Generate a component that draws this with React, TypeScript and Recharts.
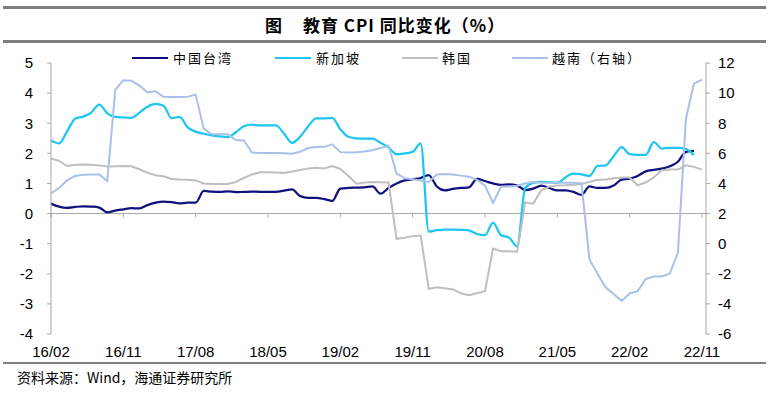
import React from 'react';
import { LineChart, Line, XAxis, YAxis, ReferenceLine } from 'recharts';

const months = [
  '16/02','16/03','16/04','16/05','16/06','16/07','16/08','16/09','16/10','16/11','16/12',
  '17/01','17/02','17/03','17/04','17/05','17/06','17/07','17/08','17/09','17/10','17/11','17/12',
  '18/01','18/02','18/03','18/04','18/05','18/06','18/07','18/08','18/09','18/10','18/11','18/12',
  '19/01','19/02','19/03','19/04','19/05','19/06','19/07','19/08','19/09','19/10','19/11','19/12',
  '20/01','20/02','20/03','20/04','20/05','20/06','20/07','20/08','20/09','20/10','20/11','20/12',
  '21/01','21/02','21/03','21/04','21/05','21/06','21/07','21/08','21/09','21/10','21/11','21/12',
  '22/01','22/02','22/03','22/04','22/05','22/06','22/07','22/08','22/09','22/10','22/11',
];

const tickLabels = ['16/02','16/11','17/08','18/05','19/02','19/11','20/08','21/05','22/02','22/11'];
const leftTicks = [-4, -3, -2, -1, 0, 1, 2, 3, 4, 5];
const rightTicks = [-6, -4, -2, 0, 2, 4, 6, 8, 10, 12];

const taiwan = [
  0.33,0.23,0.19,0.22,0.24,0.23,0.2,0.04,0.1,0.14,
  0.18,0.17,0.28,0.36,0.4,0.38,0.34,0.36,0.36,0.75,
  0.73,0.72,0.74,0.71,0.72,0.73,0.72,0.72,0.72,0.76,
  0.8,0.58,0.52,0.52,0.48,0.42,0.83,0.85,0.86,0.87,
  0.9,0.66,0.85,1.0,1.1,1.14,1.18,1.28,0.9,0.77,
  0.82,0.85,0.87,1.15,1.08,1.0,0.95,0.97,0.93,0.78,
  0.83,0.93,0.85,0.77,0.77,0.72,0.62,0.9,0.85,0.85,
  0.93,1.13,1.16,1.25,1.4,1.45,1.49,1.57,1.72,2.05,
  2.08,null,
];

const singapore = [
  2.43,2.33,2.73,3.15,3.22,3.35,3.62,3.33,3.21,3.19,
  3.18,3.35,3.55,3.64,3.58,3.17,3.21,2.86,2.72,2.65,
  2.6,2.56,2.54,2.7,2.9,2.95,2.93,2.93,2.93,2.65,
  2.35,2.55,2.9,3.16,3.16,3.18,2.8,2.55,2.5,2.49,
  2.49,2.35,2.2,1.97,2.0,2.05,2.33,-0.6,-0.55,-0.53,
  -0.53,-0.54,-0.56,-0.68,-0.72,-0.3,-0.72,-0.8,-1.09,0.85,
  1.02,1.05,1.04,1.02,1.2,1.33,1.3,1.25,1.58,1.6,
  1.9,2.21,1.97,1.95,1.95,2.37,2.16,2.18,2.18,2.14,
  1.94,null,
];

const korea = [
  1.83,1.75,1.58,1.62,1.63,1.62,1.6,1.56,1.57,1.58,
  1.57,1.47,1.36,1.27,1.24,1.15,1.13,1.12,1.1,1.0,
  0.98,0.98,0.98,1.05,1.18,1.3,1.37,1.37,1.36,1.35,
  1.4,1.45,1.5,1.52,1.5,1.58,1.48,1.25,0.99,1.03,
  1.05,1.04,1.03,-0.84,-0.8,-0.75,-0.73,-2.5,-2.45,-2.48,
  -2.52,-2.65,-2.71,-2.65,-2.58,-1.16,-1.25,-1.25,-1.27,0.37,
  0.33,0.77,0.9,0.93,0.94,0.96,0.98,1.05,1.12,1.13,
  1.17,1.2,1.2,0.94,1.03,1.2,1.44,1.46,1.46,1.6,
  1.55,1.46,
];

const vietnam = [
  3.33,3.7,4.2,4.5,4.57,4.6,4.6,4.16,10.23,10.85,
  10.82,10.5,10.05,10.12,9.76,9.74,9.74,9.76,9.9,7.64,
  7.26,7.26,7.26,6.88,6.85,6.05,6.03,6.03,6.02,6.0,
  5.98,6.1,6.35,6.42,6.43,6.6,6.08,6.05,6.07,6.12,
  6.2,6.35,6.5,4.66,4.35,4.28,4.2,4.1,4.6,4.62,
  4.6,4.52,4.45,4.24,3.85,2.7,3.8,3.8,3.85,4.0,
  4.1,4.05,4.04,4.04,4.05,4.05,4.0,-1.05,-2.0,-2.9,
  -3.35,-3.8,-3.31,-3.15,-2.35,-2.18,-2.18,-1.98,-0.6,8.3,
  10.63,10.9,
];

const seriesNames = ['中国台湾', '新加坡', '韩国', '越南（右轴）'];
const titleLead = '图';
const titleMain = '教育 CPI 同比变化（%）';
const source = '资料来源：Wind，海通证券研究所';

const data = months.map((m, i) => ({
  month: m,
  taiwan: taiwan[i],
  singapore: singapore[i],
  korea: korea[i],
  vietnam: vietnam[i],
}));

const COLORS = {
  taiwan: '#10107f',
  singapore: '#1cc6f0',
  korea: '#bfbfbf',
  vietnam: '#a9c1e8',
};

const AXIS = '#a6a6a6';
const LATIN = '"Liberation Sans", Arial, sans-serif';
const CJK = '"Noto Sans CJK SC", "Liberation Sans", sans-serif';

const legendItems = [
  { label: seriesNames[0], color: COLORS.taiwan, lineX: 132, textX: 173 },
  { label: seriesNames[1], color: COLORS.singapore, lineX: 275, textX: 316 },
  { label: seriesNames[2], color: COLORS.korea, lineX: 402, textX: 442 },
  { label: seriesNames[3], color: COLORS.vietnam, lineX: 512, textX: 552 },
];

export default function App() {
  return (
    <div style={{ position: 'absolute', left: 0, top: 0, width: 769, height: 394, background: '#fff', overflow: 'hidden' }}>
      <div style={{ position: 'absolute', left: 3, top: 6, width: 763, height: 3, background: '#7f7f7f' }} />
      <div style={{ position: 'absolute', left: 3, top: 40, width: 763, height: 3, background: '#7f7f7f' }} />
      <div style={{ position: 'absolute', left: 3, top: 362, width: 763, height: 2, background: '#7f7f7f' }} />
      <div style={{ position: 'absolute', left: 265, top: 13, fontFamily: CJK, fontWeight: 700, fontSize: 17, letterSpacing: 1, lineHeight: '24px', whiteSpace: 'nowrap', color: '#000' }}>
        <span style={{ marginRight: 20 }}>{titleLead}</span>
        <span>{titleMain}</span>
      </div>
      <LineChart width={769} height={394} data={data} margin={{ top: 63, right: 0, bottom: 0, left: 0 }}>
        <XAxis
          dataKey="month"
          xAxisId={0}
          ticks={tickLabels}
          interval={0}
          axisLine={false}
          tickLine={false}
          tickSize={0}
          tickMargin={12}
          height={60}
          padding={{ left: 0, right: 4 }}
          tick={{ fill: '#000', fontSize: 15, fontFamily: LATIN }}
        />
        <YAxis
          yAxisId="left"
          orientation="left"
          width={51}
          domain={[-4, 5]}
          ticks={leftTicks}
          interval={0}
          axisLine={{ stroke: AXIS }}
          tickLine={{ stroke: AXIS }}
          tickSize={4}
          tickMargin={14}
          tick={{ fill: '#000', fontSize: 15, fontFamily: LATIN }}
        />
        <YAxis
          yAxisId="right"
          orientation="right"
          width={63}
          domain={[-6, 12]}
          ticks={rightTicks}
          interval={0}
          axisLine={{ stroke: AXIS }}
          tickLine={{ stroke: AXIS }}
          tickSize={4}
          tickMargin={8}
          tick={{ fill: '#000', fontSize: 15, fontFamily: LATIN }}
        />
        <ReferenceLine yAxisId="left" y={0} stroke={AXIS} strokeWidth={1} />
        {tickLabels.map((t) => (
          <ReferenceLine
            key={t}
            yAxisId="left"
            segment={[{ x: t, y: 0 }, { x: t, y: -0.13 }]}
            stroke={AXIS}
            strokeWidth={1}
          />
        ))}
        <Line yAxisId="left" type="monotone" dataKey="taiwan" stroke={COLORS.taiwan} strokeWidth={2.25} dot={false} isAnimationActive={false} />
        <Line yAxisId="left" type="monotone" dataKey="singapore" stroke={COLORS.singapore} strokeWidth={2.25} dot={false} isAnimationActive={false} />
        <Line yAxisId="left" type="linear" dataKey="korea" stroke={COLORS.korea} strokeWidth={2} dot={false} isAnimationActive={false} />
        <Line yAxisId="right" type="linear" dataKey="vietnam" stroke={COLORS.vietnam} strokeWidth={2} dot={false} isAnimationActive={false} />
      </LineChart>
      {legendItems.map((it) => (
        <React.Fragment key={it.label}>
          <div style={{ position: 'absolute', left: it.lineX, top: 57, width: 36, height: 2, background: it.color }} />
          <div style={{ position: 'absolute', left: it.textX, top: 49, fontFamily: CJK, fontSize: 13, letterSpacing: 2, lineHeight: '18px', whiteSpace: 'nowrap', color: '#000' }}>
            {it.label}
          </div>
        </React.Fragment>
      ))}
      <div style={{ position: 'absolute', left: 17, top: 368, fontFamily: CJK, fontSize: 14, lineHeight: '18px', whiteSpace: 'nowrap', color: '#000' }}>
        {source}
      </div>
    </div>
  );
}
